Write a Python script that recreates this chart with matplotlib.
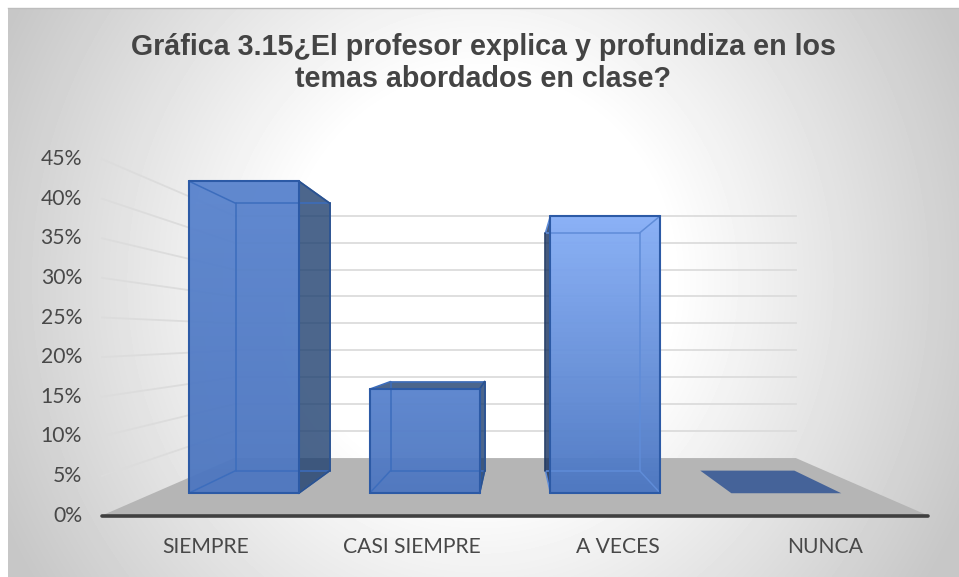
import numpy as np
import matplotlib
matplotlib.use("Agg")
import matplotlib.pyplot as plt
from matplotlib.patches import Polygon
from matplotlib.colors import LinearSegmentedColormap

categories = ["SIEMPRE", "CASI SIEMPRE", "A VECES", "NUNCA"]
values = [45, 15, 40, 0]
ticks = [0, 5, 10, 15, 20, 25, 30, 35, 40, 45]
title = "Gráfica 3.15¿El profesor explica y profundiza en los\ntemas abordados en clase?"

# perspective of the excel 3d chart, everything in pixels of the picture
W, H = 959, 577
LEFT, RIGHT = 102.0, 928.0
Y0 = 515.5
PX_PER_UNIT = 7.92
VY = 336.0
CX = (LEFT + RIGHT) / 2
S_BACK = 0.68
S_FRONT_BAR = 0.876
S_BACK_BAR = 0.75
BAR_WIDTH = 125.5


def proj(u, v, s):
    x = CX + (u - CX) * s
    y = VY + (Y0 - PX_PER_UNIT * v - VY) * s
    return x, y


def face(pts, **kw):
    ax.add_patch(Polygon(pts, closed=True, **kw))


def edge_line(a, b, color, lw, z):
    ax.plot([a[0], b[0]], [a[1], b[1]], color=color, lw=lw, solid_capstyle="round", zorder=z)


fig = plt.figure(figsize=(W / 100, H / 100), dpi=100)
ax = fig.add_axes([0, 0, 1, 1])
ax.axis("off")

# background gradient, the picture has a white margin on top and left
yy, xx = np.mgrid[8:H, 8:W]
d = np.sqrt(((xx - 480) / 480) ** 2 + (0.55 * (yy - 280) / 280) ** 2)
bg = 1 - 0.22 * np.clip((d - 0.4) / 0.7, 0, 1)
ax.imshow(bg, cmap="gray", vmin=0, vmax=1, extent=(8, W, H, 8), aspect="auto", zorder=0)
ax.plot([8, W], [8, 8], color="#bdbdbd", lw=1, zorder=0.5)

# walls
for t in ticks[1:]:
    ax.plot(*zip(proj(LEFT, t, 1), proj(LEFT, t, S_BACK)), color="#dcdcdc", lw=1.3, zorder=1)
    ax.plot(*zip(proj(LEFT, t, S_BACK), proj(RIGHT, t, S_BACK)), color="#dcdcdc", lw=1.3, zorder=1)

# floor
face([proj(LEFT, 0, 1), proj(LEFT, 0, S_BACK), proj(RIGHT, 0, S_BACK), proj(RIGHT, 0, 1)],
     facecolor="#b5b5b5", edgecolor="none", zorder=2)
ax.plot([LEFT, RIGHT], [Y0, Y0], color="#404040", lw=2.6, solid_capstyle="round", zorder=3)

step = (RIGHT - LEFT) / len(categories)
for i, (cat, val) in enumerate(zip(categories, values)):
    c = LEFT + step * (i + 0.5)
    u0, u1 = c - BAR_WIDTH / 2, c + BAR_WIDTH / 2
    fbl = proj(u0, 0, S_FRONT_BAR)
    fbr = proj(u1, 0, S_FRONT_BAR)
    ftl = proj(u0, val, S_FRONT_BAR)
    ftr = proj(u1, val, S_FRONT_BAR)
    bbl = proj(u0, 0, S_BACK_BAR)
    bbr = proj(u1, 0, S_BACK_BAR)
    btl = proj(u0, val, S_BACK_BAR)
    btr = proj(u1, val, S_BACK_BAR)

    if val == 0:
        face([fbl, fbr, bbr, bbl], facecolor="#456399", edgecolor="none", zorder=5)
    else:
        z = 5 + i * 0.01
        dark = "#1f4070"
        side_left = "#16305c" if i == 2 else None
        side_right = dark if i < 2 else None
        top = dark if i == 1 else None
        # front face, lighter to the top on the third bar
        colors = ["#4c77c2", "#86aef6"] if i == 2 else ["#4e77c0", "#5a84ce"]
        cmap = LinearSegmentedColormap.from_list("f", colors)
        im = ax.imshow(np.linspace(1, 0, 64).reshape(-1, 1), cmap=cmap, vmin=0, vmax=1,
                       extent=(ftl[0], ftr[0], fbl[1], ftl[1]), aspect="auto", alpha=0.96, zorder=z)
        for pts, col in [([fbl, bbl, btl, ftl], side_left),
                         ([fbr, bbr, btr, ftr], side_right),
                         ([ftl, ftr, btr, btl], top)]:
            if col is not None:
                face(pts, facecolor=col, edgecolor="none", alpha=0.8, zorder=z + 0.1)

        # back edges show through the glassy bar
        inner = "#5f8cd8" if i == 2 else "#3c6dbd"
        for a, b in [(btl, btr), (bbl, bbr), (btr, bbr), (ftl, btl), (fbl, bbl), (ftr, btr), (fbr, bbr)]:
            edge_line(a, b, inner, 1.1, z + 0.2)
        edge_line(btl, bbl, "#16305c" if i == 2 else inner, 1.1, z + 0.2)
        for a, b in [(fbl, fbr), (ftl, ftr), (fbl, ftl), (fbr, ftr)]:
            edge_line(a, b, "#2c5aa6", 1.5, z + 0.3)
        if i < 2:
            for a, b in [(btr, ftr), (btr, bbr), (bbr, fbr)]:
                edge_line(a, b, "#2b528f", 1.3, z + 0.25)

    ax.text(c, 547, cat, ha="center", va="center", fontsize=15.2, family="Lato", color="#484848", zorder=6)

# imshow changes the limits so set them last
ax.set_xlim(0, W)
ax.set_ylim(H, 0)

for t in ticks:
    ax.text(82, Y0 - PX_PER_UNIT * t, f"{t}%", ha="right", va="center", fontsize=15.2, family="Lato", color="#484848", zorder=6)

ax.text(483, 63, title, ha="center", va="center", fontsize=20.6, fontweight="bold", family="Liberation Sans",
        color="#444444", linespacing=1.17, zorder=6)

fig.savefig("out.png", dpi=100)
